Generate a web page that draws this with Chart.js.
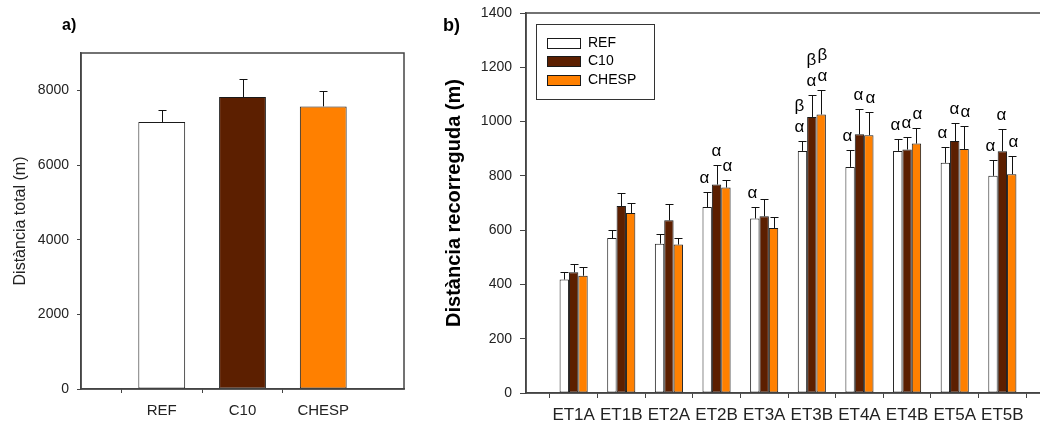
<!DOCTYPE html>
<html>
<head>
<meta charset="utf-8">
<script src="https://cdn.jsdelivr.net/npm/chart.js@4.4.0/dist/chart.umd.min.js"></script>
<style>
html,body{margin:0;padding:0;overflow:hidden;background:#fff;width:1040px;height:423px;}
.panel{position:absolute;top:0;height:423px;}
#boxA{left:0;width:420px;}
#boxB{left:440px;width:620px;}
.tag{position:absolute;font-family:"Liberation Sans",Arial,sans-serif;font-weight:bold;color:#000;line-height:1;}
</style>
</head>
<body>
<div class="panel" id="boxA"><canvas id="chartA"></canvas></div>
<div class="panel" id="boxB"><canvas id="chartB"></canvas></div>
<div class="tag" style="left:62px;top:17px;font-size:16px;">a)</div>
<div class="tag" style="left:443px;top:16px;font-size:18px;">b)</div>
<script>
// ---- DADES ----
const groups = ['REF', 'C10', 'CHESP'];
const totalMean = [7150, 7820, 7570];
const totalSd = [330, 490, 400];

const stages = ['ET1A','ET1B','ET2A','ET2B','ET3A','ET3B','ET4A','ET4B','ET5A','ET5B'];
const refMean   = [418, 571, 550, 685, 643, 892, 833, 892, 848, 800];
const refSd     = [ 27,  28,  34,  57,  42,  36,  64,  42,  58,  57];
const c10Mean   = [445, 689, 636, 768, 651, 1017, 953, 897, 928, 891];
const c10Sd     = [ 30,  49,  59,  73,  62,  81,  92,  46,  65,  83];
const chespMean = [432, 663, 547, 757, 608, 1026, 950, 919, 899, 806];
const chespSd   = [ 32,  38,  24,  29,  40,  92,  84,  59,  84,  67];
// lletres de significació (de baix a dalt)
const refSig   = ['', '', '', 'α', 'α', 'αβ', 'α', 'α', 'α', 'α'];
const c10Sig   = ['', '', '', 'α', '',  'αβ', 'α', 'α', 'α', 'α'];
const chespSig = ['', '', '', 'α', '',  'αβ', 'α', 'α', 'α', 'α'];

const colorMap = { REF: '#ffffff', C10: '#5c1f00', CHESP: '#ff8000' };
const FONT = '"Liberation Sans", Arial, sans-serif';
const EDGE = '#1a1a1a';
const AXIS = '#444';
const NONE = 'rgba(0,0,0,0)';

// categories buides als extrems, com a l'original
const pad = a => [null, ...a, null];
const padLabels = a => ['', ...a, ''];

// ---- PLUGINS ----
const errorBarsPlugin = {
  id: 'errorBars',
  afterDatasetsDraw(chart) {
    const ctx = chart.ctx;
    const y = chart.scales.y;
    ctx.save();
    ctx.strokeStyle = '#111';
    ctx.lineWidth = 1;
    chart.data.datasets.forEach((ds, i) => {
      if (!ds.errors) return;
      chart.getDatasetMeta(i).data.forEach((bar, j) => {
        const v = ds.data[j], e = ds.errors[j];
        if (v == null || e == null) return;
        const x = Math.round(bar.x) + 0.5;
        const top = Math.round(y.getPixelForValue(v + e)) + 0.5;
        ctx.beginPath();
        ctx.moveTo(x, bar.y);
        ctx.lineTo(x, top);
        ctx.moveTo(x - 4, top);
        ctx.lineTo(x + 4, top);
        ctx.stroke();
        const sig = ds.sig ? ds.sig[j] : '';
        if (sig) {
          ctx.fillStyle = '#000';
          ctx.font = '17px ' + FONT;
          ctx.textAlign = 'center';
          ctx.textBaseline = 'middle';
          [...sig].forEach((ch, k) => ctx.fillText(ch, x + (ds.sigShift || 0), top - 14.5 - k * 21));
        }
      });
    });
    ctx.restore();
  }
};

const framePlugin = {
  id: 'frame',
  afterDraw(chart) {
    const { ctx, chartArea: a } = chart;
    ctx.save();
    ctx.strokeStyle = AXIS;
    ctx.lineWidth = 1.5;
    ctx.strokeRect(a.left, a.top, a.right - a.left, a.bottom - a.top);
    ctx.restore();
  }
};

const boxLegendPlugin = {
  id: 'boxLegend',
  afterDraw(chart) {
    const { ctx, chartArea: a } = chart;
    const x0 = a.left + 10, y0 = a.top + 11;
    ctx.save();
    ctx.strokeStyle = '#333';
    ctx.lineWidth = 1;
    ctx.strokeRect(x0 + 0.5, y0 + 0.5, 118, 75);
    chart.data.datasets.forEach((ds, i) => {
      const cy = Math.round(y0 + 18.5 + i * 18.7);
      ctx.fillStyle = ds.backgroundColor;
      ctx.fillRect(x0 + 11, cy - 5, 33, 10);
      ctx.strokeStyle = EDGE;
      ctx.strokeRect(x0 + 11.5, cy - 4.5, 33, 10);
      ctx.fillStyle = '#000';
      ctx.font = '14px ' + FONT;
      ctx.textAlign = 'left';
      ctx.textBaseline = 'middle';
      ctx.fillText(ds.label, x0 + 52, cy);
    });
    ctx.restore();
  }
};

// ---- GRÀFIC a) ----
new Chart(document.getElementById('chartA'), {
  type: 'bar',
  data: {
    labels: padLabels(groups),
    datasets: [{
      label: 'Distància total',
      data: pad(totalMean),
      errors: pad(totalSd),
      backgroundColor: ['', ...groups.map(g => colorMap[g]), ''],
      borderColor: EDGE,
      borderWidth: 1,
      borderSkipped: false,
      categoryPercentage: 0.58,
      barPercentage: 1
    }]
  },
  options: {
    responsive: true,
    maintainAspectRatio: false,
    animation: false,
    layout: { padding: { left: 0, right: 16, top: 53, bottom: 0 } },
    plugins: { legend: { display: false }, tooltip: { enabled: false } },
    scales: {
      x: {
        offset: false,
        grid: {
          drawOnChartArea: false, tickLength: 4, color: AXIS,
          tickColor: c => (c.index === 0 || c.index === groups.length + 1) ? NONE : AXIS
        },
        border: { color: AXIS, width: 1.5 },
        ticks: { color: '#222', font: { family: FONT, size: 15 }, padding: 9, maxRotation: 0, autoSkip: false },
        afterFit: s => { s.height = 34; s.paddingLeft = 0; s.paddingRight = 0; }
      },
      y: {
        min: 0, max: 9000,
        grid: {
          drawOnChartArea: false, tickLength: 4, color: AXIS,
          tickColor: c => (c.tick && c.tick.value % 2000) ? NONE : AXIS
        },
        border: { color: AXIS, width: 1.5 },
        ticks: {
          stepSize: 1000, autoSkip: false,
          callback: v => (v % 2000 ? '' : String(v)),
          color: '#222', font: { family: FONT, size: 14 }, padding: 8
        },
        title: { display: true, text: 'Distància total (m)', color: '#222', font: { family: FONT, size: 16 }, padding: { top: 11, bottom: 0 } },
        afterFit: s => { s.width = 81; s.paddingTop = 0; s.paddingBottom = 0; }
      }
    }
  },
  plugins: [framePlugin, errorBarsPlugin]
});

// ---- GRÀFIC b) ----
const series = [
  { label: 'REF',   mean: refMean,   sd: refSd,   sig: refSig,   shift: -3 },
  { label: 'C10',   mean: c10Mean,   sd: c10Sd,   sig: c10Sig,   shift: -1 },
  { label: 'CHESP', mean: chespMean, sd: chespSd, sig: chespSig, shift: 1 }
];

new Chart(document.getElementById('chartB'), {
  type: 'bar',
  data: {
    labels: padLabels(stages),
    datasets: series.map(s => ({
      label: s.label,
      data: pad(s.mean),
      errors: pad(s.sd),
      sig: ['', ...s.sig, ''],
      sigShift: s.shift,
      backgroundColor: colorMap[s.label],
      borderColor: EDGE,
      borderWidth: 1,
      borderSkipped: false,
      categoryPercentage: 0.59,
      barPercentage: 1
    }))
  },
  options: {
    responsive: true,
    maintainAspectRatio: false,
    animation: false,
    layout: { padding: { left: 0, right: 10, top: 13, bottom: 0 } },
    plugins: { legend: { display: false }, tooltip: { enabled: false } },
    scales: {
      x: {
        offset: false,
        grid: { drawOnChartArea: false, tickLength: 5, color: AXIS },
        border: { color: AXIS, width: 1.5 },
        ticks: { color: '#222', font: { family: FONT, size: 17 }, padding: 7, maxRotation: 0, autoSkip: false },
        afterFit: s => { s.height = 30; s.paddingLeft = 0; s.paddingRight = 0; }
      },
      y: {
        min: 0, max: 1400,
        grid: { drawOnChartArea: false, tickLength: 6, color: AXIS },
        border: { color: AXIS, width: 1.5 },
        ticks: { stepSize: 200, autoSkip: false, callback: v => String(v), color: '#222', font: { family: FONT, size: 14 }, padding: 8 },
        title: { display: true, text: 'Distància recorreguda (m)', color: '#000', font: { family: FONT, size: 20, weight: 'bold' }, padding: { top: 2, bottom: 0 } },
        afterFit: s => { s.width = 86; s.paddingTop = 0; s.paddingBottom = 0; }
      }
    }
  },
  plugins: [framePlugin, errorBarsPlugin, boxLegendPlugin]
});
</script>
</body>
</html>
